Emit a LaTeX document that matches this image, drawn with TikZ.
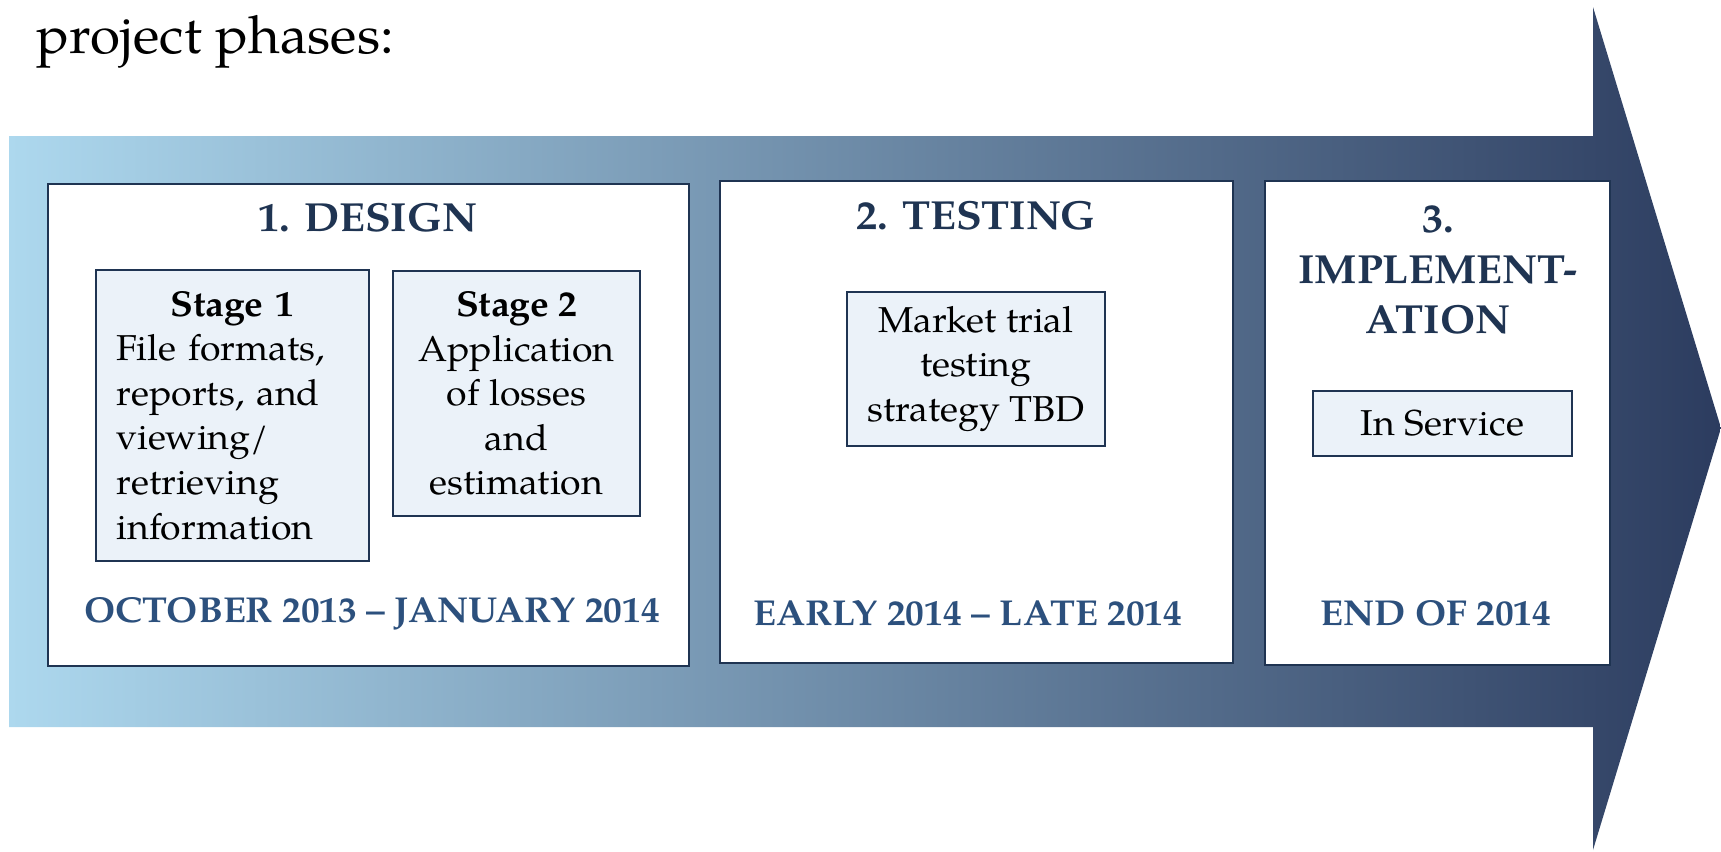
\documentclass[tikz,border=0pt]{standalone}
\usepackage{fontspec}
\setmainfont{texgyrepagella}[Extension=.otf,UprightFont=*-regular,BoldFont=*-bold,ItalicFont=*-italic,BoldItalicFont=*-bolditalic,FakeStretch=1.04]
\definecolor{navy}{RGB}{31,52,82}
\definecolor{datecol}{RGB}{44,80,125}
\definecolor{boxfill}{RGB}{235,242,249}
\definecolor{bandleft}{RGB}{173,216,238}
\definecolor{bandright}{RGB}{44,60,95}
\tikzset{
  phase/.style={draw=navy, line width=1pt, fill=white, inner sep=0pt},
  stagebox/.style={draw=navy, line width=0.75pt, fill=boxfill, inner sep=0pt, font=\fontsize{18}{22.3}\selectfont},
  ptitle/.style={text=navy, font=\fontsize{20.3}{25.2}\selectfont\bfseries, align=center, inner sep=0pt},
  pdate/.style={text=datecol, font=\fontsize{18}{21}\selectfont\bfseries, inner sep=0pt}
}
\begin{document}
\begin{tikzpicture}[x=0.5pt,y=-0.5pt]
\useasboundingbox (0,0) rectangle (1721,852);
% big arrow
\shade[left color=bandleft, right color=bandright]
  (9,136) -- (1593,136) -- (1593,7) -- (1721,428) -- (1593,850) -- (1593,727) -- (9,727) -- cycle;
% intro text
\node[anchor=base west, inner sep=0pt, font=\fontsize{26.3}{32}\selectfont] (intro) at (36,53) {project phases:};
% phase boxes
\node[phase, minimum width=320.5pt, minimum height=241pt] (p1) at (368.5,424.5) {};
\node[phase, minimum width=256.5pt, minimum height=241pt] (p2) at (976.5,422) {};
\node[phase, minimum width=172.5pt, minimum height=242pt] (p3) at (1437.5,423) {};
% titles
\node[ptitle] (t1) at (368,218) {1. DESIGN};
\node[ptitle] (t2) at (976,216) {2. TESTING};
\node[ptitle] (t3) at (1438,270) {3.\\IMPLEMENT-\\ATION};
% stage boxes
\node[stagebox, minimum width=136.5pt, minimum height=145.5pt, text width=116pt, align=left] (s1) at (232.5,415.5)
  {{\centering\bfseries Stage 1\par}File formats,\\reports, and\\viewing/\\retrieving\\information};
\node[stagebox, minimum width=123.5pt, minimum height=122.5pt, align=center] (s2) at (516.5,393.5)
  {\textbf{Stage 2}\\Application\\of losses\\and\\estimation};
\node[stagebox, minimum width=129pt, minimum height=77pt, align=center] (s3) at (976,369)
  {Market trial\\testing\\strategy TBD};
\node[stagebox, minimum width=129.5pt, minimum height=32.5pt, align=center] (s4) at (1442.5,423.5)
  {In Service};
% dates
\node[pdate] (d1) at (372,614) {OCTOBER 2013 -- JANUARY 2014};
\node[pdate] (d2) at (968,613) {EARLY 2014 -- LATE 2014};
\node[pdate] (d3) at (1436,613) {END OF 2014};
\end{tikzpicture}
\end{document}
